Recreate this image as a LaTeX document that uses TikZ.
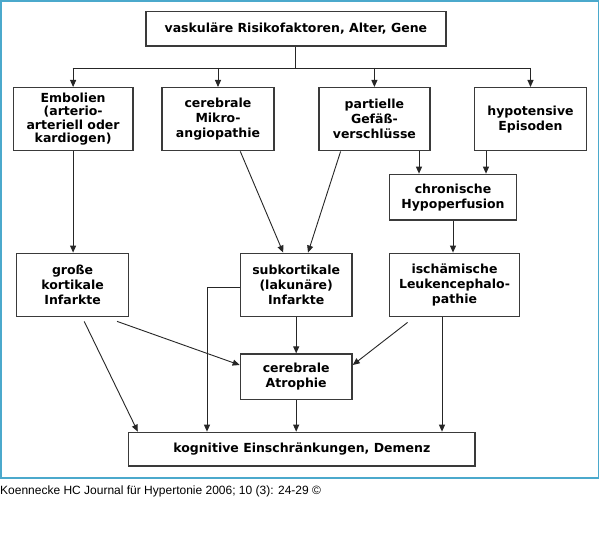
\documentclass[tikz,border=0pt]{standalone}
\usepackage{fontspec}
\setmainfont{DejaVu Sans}
\newfontfamily\capfont{Liberation Sans}
\usetikzlibrary{arrows.meta,calc}
\definecolor{framec}{HTML}{4BA9CC}
\definecolor{boxc}{HTML}{3A3A3A}
\tikzset{
  bx/.style={draw=boxc,line width=1.4pt,fill=white,align=center,inner sep=0pt,
    font=\fontsize{12.5}{15}\selectfont\bfseries},
  arr/.style={draw=black!85,line width=0.9pt,-{Triangle[length=7pt,width=6pt]}},
  ln/.style={draw=black!85,line width=0.9pt}
}
\begin{document}
\begin{tikzpicture}[x=1pt,y=-1pt]
\useasboundingbox (0,0) rectangle (600,540);
\fill[white] (0,0) rectangle (600,540);
\draw[framec,line width=1.2pt] (1,1) rectangle (598.5,478);
\node[bx,minimum width=300pt,minimum height=34.3pt] (top) at (295.9,28.85) {vaskuläre Risikofaktoren, Alter, Gene};
\node[bx,minimum width=119.4pt,minimum height=63pt,font=\fontsize{12.5}{13.6}\selectfont\bfseries] (emb) at (73.1,119.2) {Embolien\\(arterio-\\arteriell oder\\kardiogen)};
\node[bx,minimum width=112pt,minimum height=63pt] (mik) at (218,119.2) {cerebrale\\Mikro-\\angiopathie};
\node[bx,minimum width=111.2pt,minimum height=63pt] (par) at (374.4,119.2) {partielle\\Gefäß-\\verschlüsse};
\node[bx,minimum width=111.7pt,minimum height=63pt] (hyp) at (530.5,119.2) {hypotensive\\Episoden};
\node[bx,minimum width=126.7pt,minimum height=45.7pt] (chr) at (453,197.2) {chronische\\Hypoperfusion};
\node[bx,minimum width=112pt,minimum height=63.4pt] (gro) at (72.6,285) {große\\kortikale\\Infarkte};
\node[bx,minimum width=111.7pt,minimum height=63.4pt] (sub) at (296.2,285) {subkortikale\\(lakunäre)\\Infarkte};
\node[bx,minimum width=129.7pt,minimum height=63.4pt] (isc) at (454.5,285) {ischämische\\Leukencephalo-\\pathie};
\node[bx,minimum width=111.7pt,minimum height=45.3pt] (atr) at (296.2,376.7) {cerebrale\\Atrophie};
\node[bx,minimum width=346.4pt,minimum height=33.7pt] (kog) at (301.8,449.2) {kognitive Einschränkungen, Demenz};
\node[anchor=west,inner sep=0pt,font=\capfont\fontsize{12}{13}\selectfont] (cap) at (0,491.7) {Koennecke HC Journal für Hypertonie 2006; 10 (3): 24-29 ©};
% bus
\coordinate (busL) at (72.7,68);
\coordinate (busR) at (530.8,68);
\draw[ln] (top.south) -- (top.south |- busL);
\draw[ln] (busL) -- (busR);
\draw[arr] (emb.north |- busL) -- (emb.north);
\draw[arr] (mik.north |- busL) -- (mik.north);
\draw[arr] (par.north |- busL) -- (par.north);
\draw[arr] (hyp.north |- busL) -- (hyp.north);
% row 2 to lower
\draw[arr] (emb.south) -- (emb.south |- gro.north);
\draw[arr] ([xshift=22.3pt]mik.south) -- ([xshift=-13pt]sub.north);
\draw[arr] ([xshift=-33.8pt]par.south) -- ([xshift=11.8pt]sub.north);
\draw[arr] ([xshift=44.6pt]par.south) -- ([xshift=44.6pt]par.south |- chr.north);
\draw[arr] ([xshift=-44.5pt]hyp.south) -- ([xshift=-44.5pt]hyp.south |- chr.north);
\draw[arr] (chr.south) -- (chr.south |- isc.north);
% row 4 to lower
\draw[arr] ([yshift=-2.3pt]sub.west) -| ([xshift=-94.8pt]kog.north);
\draw[arr] (sub.south) -- (atr.north);
\draw[arr] ([xshift=11.6pt,yshift=-4pt]gro.south) -- ([xshift=-164pt]kog.north);
\draw[arr] ([xshift=44.5pt,yshift=-4pt]gro.south) -- ([yshift=11.7pt]atr.west);
\draw[arr] ([xshift=-46.9pt,yshift=-5pt]isc.south) -- ([yshift=11.7pt]atr.east);
\draw[arr] ([xshift=-12.5pt]isc.south) -- ([xshift=-12.5pt]isc.south |- kog.north);
\draw[arr] (atr.south) -- (atr.south |- kog.north);
\end{tikzpicture}
\end{document}
